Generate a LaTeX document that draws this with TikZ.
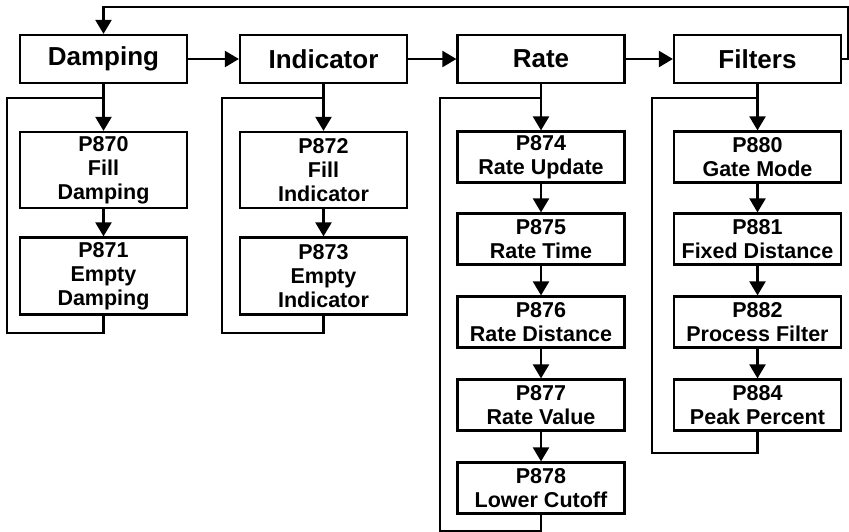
\documentclass[tikz,border=0pt]{standalone}
\usepackage{fontspec}
\setmainfont{Liberation Sans}
\usetikzlibrary{arrows.meta}
\begin{document}
\begin{tikzpicture}[x=1pt,y=-1pt,
  line width=2.2pt,
  topbox/.style={draw,minimum width=167pt,minimum height=48pt,inner sep=0pt,font=\fontsize{26}{28}\selectfont\bfseries},
  subbox/.style={draw,minimum width=167pt,inner sep=0pt,align=center,font=\fontsize{21.5}{24}\selectfont\bfseries},
  arr/.style={-{Triangle[width=16pt,length=14pt]}}]
\useasboundingbox (0,0) rectangle (849,531);
% top boxes
\node[topbox] (D) at (103.5,59) {Damping};
\node[topbox] (I) at (323.5,59) {Indicator};
\node[topbox] (R) at (541,59) {Rate};
\node[topbox] (F) at (757.5,59) {Filters};
% damping column
\node[subbox,minimum height=76pt] (p870) at (103.5,170) {P870\\Fill\\Damping};
\node[subbox,minimum height=77pt] (p871) at (103.5,276) {P871\\Empty\\Damping};
% indicator column
\node[subbox,minimum height=76pt] (p872) at (323.5,170) {P872\\Fill\\Indicator};
\node[subbox,minimum height=77pt] (p873) at (323.5,276) {P873\\Empty\\Indicator};
% rate column
\node[subbox,minimum height=51pt] (p874) at (541,157) {P874\\Rate Update};
\node[subbox,minimum height=51pt] (p875) at (541,239) {P875\\Rate Time};
\node[subbox,minimum height=51pt] (p876) at (541,322) {P876\\Rate Distance};
\node[subbox,minimum height=51pt] (p877) at (541,405) {P877\\Rate Value};
\node[subbox,minimum height=51pt] (p878) at (541,488) {P878\\Lower Cutoff};
% filters column
\node[subbox,minimum height=51pt] (p880) at (757.5,157) {P880\\Gate Mode};
\node[subbox,minimum height=51pt] (p881) at (757.5,239) {P881\\Fixed Distance};
\node[subbox,minimum height=51pt] (p882) at (757.5,322) {P882\\Process Filter};
\node[subbox,minimum height=51pt] (p884) at (757.5,405) {P884\\Peak Percent};
% horizontal chain
\draw[arr] (D) -- (I);
\draw[arr] (I) -- (R);
\draw[arr] (R) -- (F);
\coordinate (topR) at (848,7);
\draw[arr] (F.east) -- (848,59) -- (topR) -| (D.north);
% vertical chains
\draw[arr] (D) -- (p870);
\draw[arr] (p870) -- (p871);
\draw[arr] (I) -- (p872);
\draw[arr] (p872) -- (p873);
\draw[arr] (R) -- (p874);
\draw[arr] (p874) -- (p875);
\draw[arr] (p875) -- (p876);
\draw[arr] (p876) -- (p877);
\draw[arr] (p877) -- (p878);
\draw[arr] (F) -- (p880);
\draw[arr] (p880) -- (p881);
\draw[arr] (p881) -- (p882);
\draw[arr] (p882) -- (p884);
% feedback loops
\coordinate (jD) at (103.5,98);
\coordinate (jI) at (323.5,98);
\coordinate (jR) at (541,98);
\coordinate (jF) at (757.5,98);
\draw (p871.south) -- ++(0,17) -| (7,98) -- (jD);
\draw (p873.south) -- ++(0,17) -| (222,98) -- (jI);
\draw (p878.south) -- ++(0,16) -| (440,98) -- (jR);
\draw (p884.south) -- ++(0,21) -| (652,98) -- (jF);
\end{tikzpicture}
\end{document}
